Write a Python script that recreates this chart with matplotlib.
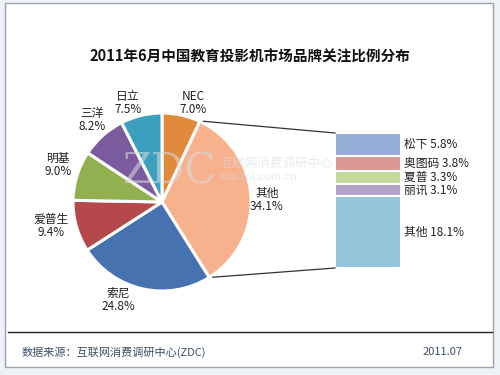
import numpy as np
import matplotlib
matplotlib.use('Agg')
import matplotlib.pyplot as plt
from matplotlib.patches import Rectangle

plt.rcParams['font.family'] = ['Noto Sans CJK SC', 'DejaVu Sans']

# pie data (clockwise from 12 o'clock)
brands = ['NEC', '其他', '索尼', '爱普生', '明基', '三洋', '日立']
shares = [7.0, 34.1, 24.8, 9.4, 9.0, 8.2, 7.5]
pie_colors = ['#e08a3c', '#f7b18c', '#4673b0', '#b4484a', '#93b050', '#7a5b9e', '#3b9fbd']

# breakdown of "其他"
sub_brands = ['松下', '奥图码', '夏普', '丽讯', '其他']
sub_shares = [5.8, 3.8, 3.3, 3.1, 18.1]
sub_colors = ['#95acd7', '#d99694', '#c4d79c', '#b2a2c8', '#93c5da']

title = '2011年6月中国教育投影机市场品牌关注比例分布'
source = '数据来源：互联网消费调研中心(ZDC)'
date = '2011.07'

H = 375
fig = plt.figure(figsize=(5, 3.75), dpi=100, facecolor='#eef2f7')
ax = fig.add_axes([0, 0, 1, 1])
ax.set_xlim(0, 500)
ax.set_ylim(0, H)
ax.axis('off')

# frame
ax.add_patch(Rectangle((5, H - 367), 488, 364, facecolor='white', edgecolor='#9aa3ad', lw=1, zorder=0))
ax.plot([8, 492], [H - 332, H - 332], color='#222222', lw=1)

ax.text(250, H - 57, title, ha='center', va='center', fontsize=10.5, fontweight='bold', color='#111111')

# pie
cx, cy, r = 162, H - 202, 89
explode = [0.04 if b == '其他' else 0.0 for b in brands]
wedges, _ = ax.pie(shares, colors=pie_colors, startangle=90, counterclock=False,
                   center=(cx, cy), radius=r, explode=explode,
                   wedgeprops=dict(edgecolor='white', linewidth=2.2))
ax.set_xlim(0, 500)
ax.set_ylim(0, H)
ax.set_aspect('equal')

lab_pos = [(193, 103), (267, 200), (118, 300), (51, 226), (58, 165), (92, 120), (128, 103)]
for b, s, (lx, ly) in zip(brands, shares, lab_pos):
    ax.text(lx, H - ly, '%s\n%.1f%%' % (b, s), ha='center', va='center', fontsize=8.5,
            color='#222222', linespacing=1.05)

# stacked bar for "其他"
bx0, bx1 = 335, 401
btop, bbot = H - 133, H - 268
scale = (btop - bbot) / sum(sub_shares)
bottom = btop
label_y = []
for name, v, c in zip(sub_brands, sub_shares, sub_colors):
    h = v * scale
    ax.bar((bx0 + bx1) / 2, -h, bottom=bottom, width=bx1 - bx0, color=c,
           edgecolor='white', linewidth=1.5)
    label_y.append(bottom - h / 2)
    bottom -= h
for name, v, yy in zip(sub_brands, sub_shares, label_y):
    ax.text(bx1 + 3, yy, '%s %.1f%%' % (name, v), ha='left', va='center', fontsize=8.5, color='#222222')

# connector lines from the exploded wedge to the bar
oth = brands.index('其他')
a1 = 90 - sum(shares[:oth]) * 3.6
a2 = 90 - sum(shares[:oth + 1]) * 3.6
amid = np.deg2rad((a1 + a2) / 2)
ox, oy = cx + explode[oth] * r * np.cos(amid), cy + explode[oth] * r * np.sin(amid)
p1 = (ox + r * np.cos(np.deg2rad(a1)), oy + r * np.sin(np.deg2rad(a1)))
p2 = (ox + r * np.cos(np.deg2rad(a2)), oy + r * np.sin(np.deg2rad(a2)))
ax.plot([p1[0], bx0], [p1[1], btop], color='#333333', lw=0.9)
ax.plot([p2[0], bx0], [p2[1], bbot], color='#333333', lw=0.9)

# watermark
ax.text(216, H - 172, 'ZDC', ha='right', va='center', fontsize=30, color='#d8dde3', alpha=0.55,
        family='DejaVu Serif')
ax.text(220, H - 163, '互联网消费调研中心', ha='left', va='center', fontsize=9, color='#d8dde3', alpha=0.6)
ax.text(220, H - 177, 'zdc.zol.com.cn', ha='left', va='center', fontsize=8, color='#d8dde3', alpha=0.6)

# footer
ax.text(22, H - 352, source, ha='left', va='center', fontsize=8, color='#3c5068')
ax.text(463, H - 352, date, ha='right', va='center', fontsize=8, color='#3c5068')

fig.savefig('out.png', dpi=100, facecolor=fig.get_facecolor())
